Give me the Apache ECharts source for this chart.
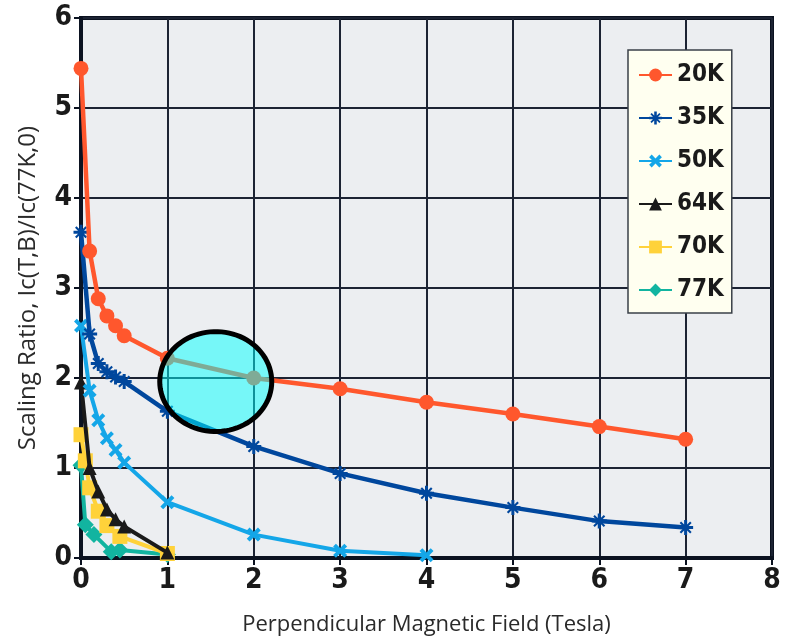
<!DOCTYPE html>
<html><head><meta charset="utf-8">
<script src="https://cdn.jsdelivr.net/npm/echarts@6/dist/echarts.min.js"></script>
<style>html,body{margin:0;padding:0;background:#fff}#c{width:787px;height:642px}</style>
</head><body><div id="c"></div>
<script>
const seriesNames = ['20K','35K','50K','64K','70K','77K'];
const b20 = [0, 0.1, 0.2, 0.3, 0.4, 0.5, 1, 2, 3, 4, 5, 6, 7];
const v20 = [5.44, 3.41, 2.88, 2.69, 2.58, 2.47, 2.22, 2.0, 1.88, 1.73, 1.6, 1.46, 1.32];
const b35 = [0, 0.1, 0.2, 0.3, 0.4, 0.5, 1, 2, 3, 4, 5, 6, 7];
const v35 = [3.62, 2.49, 2.16, 2.07, 2.01, 1.96, 1.63, 1.24, 0.94, 0.72, 0.56, 0.41, 0.34];
const b50 = [0, 0.1, 0.2, 0.3, 0.4, 0.5, 1, 2, 3, 4];
const v50 = [2.58, 1.86, 1.53, 1.33, 1.2, 1.06, 0.62, 0.26, 0.08, 0.03];
const b64 = [0, 0.1, 0.2, 0.3, 0.4, 0.5, 1];
const v64 = [1.95, 1.0, 0.74, 0.54, 0.43, 0.35, 0.06];
const b70 = [0, 0.05, 0.1, 0.2, 0.3, 0.45, 1];
const v70 = [1.37, 1.08, 0.78, 0.52, 0.36, 0.24, 0.05];
const b77 = [0, 0.05, 0.15, 0.35, 0.45, 1];
const v77 = [1.03, 0.37, 0.26, 0.07, 0.09, 0.04];
const xTicks = [0,1,2,3,4,5,6,7,8];
const yTicks = [0,1,2,3,4,5,6];
const highlightCenter = [1.56, 1.96];

const colors = ['#FF572D','#00479D','#14A6E8','#1A1A1A','#FFD23A','#12B4A0'];
const symbols = ['circle',
  'path://M4,0 H6 V3 L8,1 L9,2 L7,4 H10 V6 H7 L9,8 L8,9 L6,7 V10 H4 V7 L2,9 L1,8 L3,6 H0 V4 H3 L1,2 L2,1 L4,3 Z',
  'path://M0,2 L2,0 L5,3 L8,0 L10,2 L7,5 L10,8 L8,10 L5,7 L2,10 L0,8 L3,5 Z',
  'triangle','rect','diamond'];
const sizes = [15, 15, 14, 14, 15, 17];
const widths = [4.5, 4.5, 4, 4, 4, 4];
const xs = [b20,b35,b50,b64,b70,b77];
const ys = [v20,v35,v50,v64,v70,v77];

const labelFont = '"DejaVu Sans Condensed","DejaVu Sans",sans-serif';
const chart = echarts.init(document.getElementById('c'));
const series = seriesNames.map((n,i)=>({
  name:n, type:'line', data: xs[i].map((x,j)=>[x, ys[i][j]]),
  symbol: symbols[i], symbolSize: sizes[i], showSymbol:true,
  lineStyle:{color:colors[i], width:widths[i]},
  itemStyle:{color:colors[i], borderWidth:0},
  z: 10 - i, animation:false
}));
chart.setOption({
  animation:false,
  grid:{left:81, right:15, top:18, bottom:84, show:true, backgroundColor:'#ECEEF1', borderColor:'#0B1220', borderWidth:4},
  xAxis:{type:'value', min:0, max:8, interval:1,
    name:'Perpendicular Magnetic Field (Tesla)', nameLocation:'middle', nameGap:56,
    nameTextStyle:{fontFamily:'"Open Sans",sans-serif', fontSize:22, fontWeight:500, color:'#2a2a2a'},
    axisLine:{show:true, onZero:false, lineStyle:{color:'#0B1220', width:4}},
    axisTick:{show:true, length:7, lineStyle:{color:'#0B1220', width:2}},
    axisLabel:{fontFamily:labelFont, fontWeight:'bold', fontSize:28, color:'#1a1a1a', margin:9},
    splitLine:{show:true, lineStyle:{color:'#1C2333', width:2}}},
  yAxis:{type:'value', min:0, max:6, interval:1,
    name:'Scaling Ratio, Ic(T,B)/Ic(77K,0)', nameLocation:'middle', nameGap:41,
    nameTextStyle:{fontFamily:'"Open Sans",sans-serif', fontSize:24, fontWeight:500, color:'#2a2a2a'},
    axisLine:{show:true, onZero:false, lineStyle:{color:'#0B1220', width:4}},
    axisTick:{show:true, length:7, lineStyle:{color:'#0B1220', width:2}},
    axisLabel:{fontFamily:labelFont, fontWeight:'bold', fontSize:28, color:'#1a1a1a', margin:9},
    splitLine:{show:true, lineStyle:{color:'#1C2333', width:2}}},
  legend:{orient:'vertical', left:628, top:50, width:99, padding:[13,8,11,10],
    backgroundColor:'#FFFFF0', borderColor:'#3A4048', borderWidth:1.5,
    itemWidth:33, itemHeight:16, itemGap:19,
    textStyle:{fontFamily:labelFont, fontWeight:'bold', fontSize:24, color:'#1a1a1a'},
    data: seriesNames},
  series: series
});
// highlight ellipse annotation
const c = chart.convertToPixel({gridIndex:0}, highlightCenter);
const rx = 56, ry = 50;
const pts = [];
for (let k=0;k<90;k++){ const t = k/90*Math.PI*2; pts.push([c[0]+rx*Math.cos(t), c[1]+ry*Math.sin(t)]); }
chart.setOption({graphic:[{type:'polygon', z:100, shape:{points:pts},
  style:{fill:'rgba(0,255,255,0.5)', stroke:'#000', lineWidth:5}}]});
</script></body></html>
